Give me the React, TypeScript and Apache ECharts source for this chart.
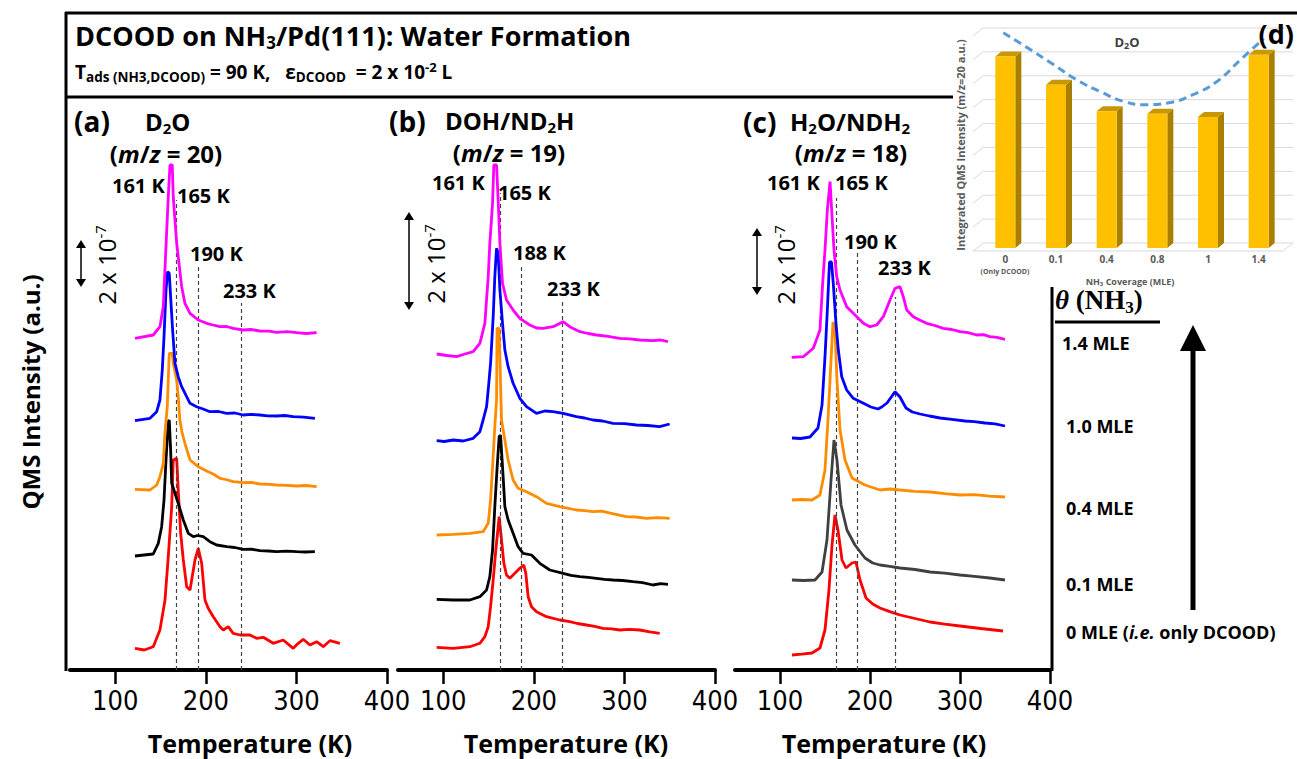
import React, { useEffect, useRef } from "react";
import * as echarts from "echarts";

// ---------- DATA ----------
// Panel (a) D2O (m/z = 20): [temperature K, offset QMS intensity a.u.]
const a14 = [[121.7,331.7],[141.9,335],[149.3,343.3],[153,363.3],[154.8,400],[158.5,473.3],[160.4,505],[162.9,505],[164,473.3],[167.8,426.7],[169.5,413.3],[173.3,383.3],[176.9,366.7],[182.5,356.7],[191.6,350],[200.9,346.7],[208,345],[215.5,343.3],[223,343.5],[230.2,341.7],[241.3,340],[250,340.5],[259.7,339],[270,338.8],[278.1,337.7],[290,338.3],[300.2,337.3],[311,336.5],[322.3,337.3]];
const a10 = [[121.7,249.3],[138.3,251.7],[145.7,258.3],[149.3,270],[151.9,300],[153.8,333.3],[156,380],[157.8,398.3],[159.6,396.7],[161.1,373.3],[163.3,340],[165.9,306.7],[169.5,293.3],[173.3,283.3],[178.8,273.3],[182.5,266.7],[189.8,263.3],[197,261],[204.5,258.3],[214,258.5],[223,256.7],[232,257],[241.3,255],[250,255.6],[259.7,255],[268,254.2],[278.1,254],[287,254.5],[296.5,253.3],[308,252.8],[320.4,251.7]];
const a04 = [[121.7,180.7],[138.3,180],[145.7,185],[149.3,193.3],[153,206.7],[154.8,236.7],[157.4,263.3],[159.6,316.7],[162.9,316.7],[164,306.7],[167.8,290],[169.5,273.3],[171.3,250],[173.6,238],[176.9,226.7],[182.5,210],[191.6,203.3],[202.6,198.3],[209,195.5],[215.6,191.7],[222,190.5],[230.2,188.3],[241.3,187.3],[250,187.6],[259.7,186],[270,185.6],[278.1,185],[290,184.6],[300.2,184],[311,184.5],[322.3,183.3]];
const a01 = [[121.7,114],[141.9,116],[147.5,126.7],[151.2,143.3],[153.8,170],[156,210],[158.5,248.3],[159.6,250],[161.1,220],[162.3,186.7],[165.9,176.7],[169.5,166.7],[175.1,150],[180.6,136.7],[186.1,133.3],[191,134.5],[197.1,133.3],[204.5,128.3],[211.9,125],[223,123.3],[232,122.5],[241.3,120.7],[250,120.9],[259.7,119.3],[269,119],[278.1,118.3],[289,118.9],[300.2,118.3],[310,118],[320.4,118.3]];
const a00 = [[121.7,21.7],[132,20],[141.9,23.3],[149.3,40],[154.9,70],[158.5,113.3],[162.3,163.3],[164,210],[167.8,211.7],[169.5,180],[172.2,136.7],[175.1,110],[178.8,83.3],[182.5,80],[188,110],[191.6,121.7],[195.4,106.7],[199,70],[202.6,61.7],[208.2,53.3],[215.6,43.3],[219.2,40],[224.7,43.3],[230.2,36.7],[237.6,35],[248.7,35],[256,31.7],[263.4,32.7],[274.4,26.7],[285.4,30],[296.5,21.7],[302,26.7],[307.5,30.7],[314.9,25],[322.3,28.3],[329.6,23.3],[337,29.3],[348,26.7]];

// Panel (b) DOH/ND2H (m/z = 19)
const b14 = [[92.7,316],[104,314.5],[114.7,313.3],[124,316],[133,318.3],[140.4,326.7],[145.9,346.7],[149.6,393.3],[151.4,426.7],[154.4,466.7],[155.8,505],[158.8,505],[160.6,470],[162.5,426.7],[165.4,386.7],[169.8,370],[177.1,360],[184.5,351.7],[195.5,345],[203,342],[210.2,341.7],[221.2,343.3],[232.3,348.3],[239.6,343.3],[250.7,338.3],[260,336.5],[269.1,335],[282,333.6],[294.8,331.7],[306,331.2],[316.8,330],[331.5,329.3],[340,330],[348,328.3]];
const b10 = [[92.7,229.3],[101,228.5],[111,230],[122,229],[133,231.7],[140.4,238.3],[144,250],[147.8,263.3],[149.6,280],[152.2,306.7],[155.1,353.3],[156.9,393.3],[158.8,421.7],[160.6,416.7],[162.5,380],[165.4,346.7],[168,320],[171.6,303.3],[177.1,286.7],[184.5,271.7],[191.9,263.3],[202.9,256.7],[212,259],[221.2,258.3],[232.3,256.7],[247,253.3],[256,252],[265.3,250],[276,249],[287.4,246.7],[300,246.4],[313.2,245],[326,244.5],[338.9,243.3],[349.9,246]];
const b04 = [[92.7,135],[111,135.7],[129.4,136.7],[144,138.3],[149.6,146.7],[152.2,170],[154.4,203.3],[156.9,243.3],[158.8,270],[159.4,341.7],[161.6,341.7],[163.2,287],[164.3,250],[168,230],[171.6,210],[177.1,190],[182.6,181.7],[191.9,178.3],[202.9,173.3],[213.9,166.7],[228.6,163.3],[238,161.7],[247,160],[256,159.4],[265.3,158.3],[275,158.8],[285.6,156.7],[293,155.2],[302.1,153.3],[313,153],[324.2,151.7],[337,152.4],[349.9,151.7]];
const b01 = [[92.7,70.7],[111,70],[129.4,70],[140.4,73.3],[147.8,80],[151.4,93.3],[154.4,120],[156.9,163.3],[159.5,203.3],[161.7,233.3],[163.2,235],[165.4,203.3],[168,163.3],[171.6,150],[177.1,136.7],[182.6,123.3],[188.1,116.7],[197.4,115],[206.6,106.7],[217.6,100],[232.3,96.7],[241,94.6],[250.7,93.3],[260,92.6],[269.1,91.7],[278,90.6],[287.4,90],[298,89.5],[309.5,88.3],[320,87.4],[331.5,85],[340,86.4],[348.1,85.7]];
const b00 = [[92.7,22.7],[111,21.7],[129.4,23.3],[140.4,26.7],[145.9,33.3],[149.6,43.3],[152.2,63.3],[155.1,90],[158,120],[160.6,143.3],[161.7,153.3],[164.3,130],[166.9,106.7],[169.8,95],[173.5,91.7],[179,96.7],[184.5,101.7],[188.9,105],[191.1,96.7],[193.7,73.3],[197.4,63.3],[202.9,58.3],[213.9,53.3],[228.6,50],[239.6,48.3],[248,46.5],[258,45],[267,43.6],[276.4,41.7],[286,41.2],[294.8,40],[305,40.6],[316.8,40],[328,38.2],[338.9,36.7]];

// Panel (c) H2O/NDH2 (m/z = 18)
const c14 = [[113,312.7],[125.9,313.3],[137,321.7],[144.4,340],[147.4,386.7],[150,420],[152.6,460],[155.6,488.3],[157.4,460],[160,420],[163,393.3],[166.7,380],[174.1,363.3],[181.4,356.7],[192.6,346.7],[200,343.3],[207.4,345],[214.8,353.3],[222.2,370],[227.8,381.7],[233.3,383.3],[237,373.3],[240.8,360],[248.1,353.3],[255,350],[263,346.7],[272,344.5],[281.4,341.7],[291,340.5],[300,338.3],[309,337.4],[318.6,335],[326,335.4],[333.3,333.3],[341,332.6],[350,330.7]];
const c10 = [[113.3,232],[123,231.5],[133.3,233],[142.2,242],[146.7,265],[150,313.3],[152.6,360],[155,408],[157.2,408],[159.2,386.7],[162.2,346.7],[164.8,320],[168.6,293.3],[174.1,280],[181.4,271.7],[194.4,266],[201,263],[208.9,261],[213,263],[218.9,267],[227.8,278.3],[233.3,273],[240,262],[247,258],[255.6,256],[266,254],[277.8,252],[291,250.6],[305.6,249],[316,248.4],[327.8,247],[339,246.2],[350,244]];
const c04 = [[113.3,170],[124,170.5],[135.6,170],[144.4,175],[150,200],[153.3,250],[156.7,310],[158.9,348],[161.1,340],[163.3,290],[166.7,240],[172.2,210],[180,192],[194.4,185],[211.1,180],[222,181],[233.3,180],[250,178.6],[266.7,178],[283,176.4],[300,175],[316,175.3],[333,173.8],[350,173]];
const c01 = [[113.3,90],[126,89.5],[138.9,90],[146.7,98],[152.2,130],[156.7,190],[160,230],[163.3,210],[167.8,165],[174.4,140],[183.3,125],[194.4,112],[203,107],[211.1,105],[222,103.6],[233.3,102],[250,100.5],[266.7,98],[283,96.8],[300,95],[316,93.6],[333,92],[350,90]];
const c00 = [[113.3,15],[124,15.8],[135.6,17],[144.4,22],[150,40],[154.4,80],[157.8,125],[161.1,155],[164.4,140],[168.9,110],[173.3,102],[180,107],[184.4,108],[188.9,90],[195.6,72],[203,66],[211.1,62],[222,58.4],[233.3,55],[250,51.5],[266.7,48],[283,45.8],[300,44],[323,41.5],[347.8,39]];

// dashed guide lines: temperature and upper extent
const dashA = [167.8, 191.6, 239.5];
const dashTopA = [470, 405, 367];
const dashB = [162.5, 185.6, 231.9];
const dashTopB = [477, 405, 368];
const dashC = [163, 186.3, 227.8];
const dashTopC = [472, 420, 373];

const tempTicks = [100, 200, 300, 400];

// Inset (d): integrated D2O intensity vs NH3 coverage
const covCats = ["0", "0.1", "0.4", "0.8", "1", "1.4"];
const d2oIntegrated = [8.02, 6.83, 5.72, 5.62, 5.48, 8.09];
const trendX = [-0.04, 0.4, 0.95, 1.41, 1.88, 2.36, 2.76, 3.23, 3.69, 4.17, 4.64, 5.1];
const trendY = [9.01, 8.43, 7.68, 7.04, 6.54, 6.12, 6.0, 6.08, 6.41, 6.96, 7.88, 8.76];
const insetGridVals = [0, 1, 2, 3, 4, 5, 6, 7, 8, 9];

// ---------- STYLE ----------
const FONT = "'Open Sans', 'Noto Sans', sans-serif";
const NARROW = "'Liberation Sans Narrow', 'Arial Narrow', 'DejaVu Sans Condensed', 'Open Sans', sans-serif";
const SERIF = "'Liberation Serif', 'DejaVu Serif', serif";

const colA = ["#FF00FF", "#0000FF", "#FF8C00", "#000000", "#FF0000"];
const colC = ["#FF00FF", "#0000FF", "#FF8C00", "#404040", "#FF0000"];

function txt(x: number, y: number, text: string, size: number, extra: any = {}, more: any = {}) {
  return {
    type: "text", x, y, z: 50, silent: true, ...more,
    style: {
      text, fontSize: size, fontWeight: "bold", fontFamily: FONT, fill: "#000",
      align: "left", verticalAlign: "middle", lineHeight: Math.round(size * 1.15), ...extra,
    },
  };
}
const subS = (fs: number, fam = FONT, fill = "#000") => ({ fontSize: fs, fontWeight: "bold", fontFamily: fam, fill, verticalAlign: "bottom", lineHeight: fs });
const supS = (fs: number, fam = FONT, weight = "bold") => ({ fontSize: fs, fontWeight: weight, fontFamily: fam, fill: "#000", verticalAlign: "top", lineHeight: fs });
const itS = (fs: number) => ({ fontSize: fs, fontWeight: "bold", fontStyle: "italic", fontFamily: FONT, fill: "#000" });

function line(x1: number, y1: number, x2: number, y2: number, w: number) {
  return { type: "line", z: 40, silent: true, shape: { x1, y1, x2, y2 }, style: { stroke: "#000", lineWidth: w } };
}
function dblArrow(x: number, y1: number, y2: number) {
  const h = 8, hw = 5;
  return [
    { type: "line", z: 40, silent: true, shape: { x1: x, y1: y1 + h - 1, x2: x, y2: y2 - h + 1 }, style: { stroke: "#000", lineWidth: 1.5 } },
    { type: "polygon", z: 40, silent: true, shape: { points: [[x, y1], [x - hw, y1 + h], [x + hw, y1 + h]] }, style: { fill: "#000" } },
    { type: "polygon", z: 40, silent: true, shape: { points: [[x, y2], [x - hw, y2 - h], [x + hw, y2 - h]] }, style: { fill: "#000" } },
  ];
}
function scaleText(x: number, y: number) {
  return txt(x, y, "2 x 10{p|-7}", 24, { align: "center", fontWeight: "normal", lineHeight: 28, rich: { p: supS(15, FONT, "normal") } }, { rotation: Math.PI / 2 });
}

const grids = [
  { left: 70, top: 95, width: 317, height: 575 },
  { left: 398, top: 95, width: 317, height: 575 },
  { left: 735, top: 95, width: 315, height: 575 },
  { left: 980, top: 33, width: 304, height: 215 },
];

const tempAxis = (i: number) => ({
  type: "value", gridIndex: i, min: 50, max: 400,
  axisLine: { show: true, onZero: false, lineStyle: { color: "#000", width: 4 } },
  axisTick: { show: true, customValues: tempTicks, length: 14, lineStyle: { color: "#000", width: 2.5 } },
  axisLabel: { show: true, customValues: tempTicks, fontSize: 27, fontFamily: NARROW, color: "#000", margin: 17 },
  splitLine: { show: false },
});
const intAxis = (i: number) => ({ type: "value", gridIndex: i, min: 0, max: 575, show: false });

function traces(panel: number, list: number[][][], cols: string[], dash: number[], dashTop: number[]) {
  return list.map((d, k) => ({
    type: "line", xAxisIndex: panel, yAxisIndex: panel, data: d, showSymbol: false, symbol: "none",
    lineStyle: { color: cols[k], width: 2.8 }, itemStyle: { color: cols[k] }, z: 5 - k + 3,
    markLine: k === list.length - 1 ? {
      silent: true, symbol: ["none", "none"], label: { show: false },
      lineStyle: { color: "#444", width: 1.2, type: [4, 3] },
      data: dash.map((t, i) => [{ coord: [t, 0] }, { coord: [t, dashTop[i]] }]),
    } : undefined,
  }));
}

const option: any = {
  animation: false,
  backgroundColor: "#fff",
  grid: grids,
  xAxis: [
    tempAxis(0), tempAxis(1), tempAxis(2),
    {
      type: "category", gridIndex: 3, data: covCats,
      axisLine: { show: false }, axisTick: { show: false },
      axisLabel: {
        interval: 0, margin: 5, fontSize: 10, lineHeight: 11, fontWeight: "bold", fontFamily: FONT, color: "#595959",
      },
    },
    { type: "value", gridIndex: 3, min: -0.5, max: 5.5, show: false },
  ],
  yAxis: [intAxis(0), intAxis(1), intAxis(2), { type: "value", gridIndex: 3, min: 0, max: 9, show: false }],
  series: [
    ...traces(0, [a14, a10, a04, a01, a00], colA, dashA, dashTopA),
    ...traces(1, [b14, b10, b04, b01, b00], colA, dashB, dashTopB),
    ...traces(2, [c14, c10, c04, c01, c00], colC, dashC, dashTopC),
    {
      type: "custom", xAxisIndex: 3, yAxisIndex: 3, silent: true, z: 1,
      data: insetGridVals.map((v) => [0, v]),
      renderItem: (params: any, api: any) => {
        const cs = params.coordSys;
        const v = api.value(1);
        const y = api.coord([0, v])[1] - 5;
        const xl = cs.x - 7, xb = cs.x + 3, xr = cs.x + cs.width + 9;
        const children: any[] = [
          { type: "polyline", shape: { points: [[xl, y + 8], [xb, y], [xr, y]] }, style: { stroke: "#D9D9D9", lineWidth: 1, fill: null } },
        ];
        if (v === 0) {
          children.push({ type: "polyline", shape: { points: [[xl, y + 8], [xr - 10, y + 8], [xr, y]] }, style: { stroke: "#D9D9D9", lineWidth: 1, fill: null } });
        }
        return { type: "group", children };
      },
    },
    {
      type: "custom", xAxisIndex: 3, yAxisIndex: 3, silent: true, z: 2,
      data: d2oIntegrated.map((v, i) => [i, v]),
      renderItem: (params: any, api: any) => {
        const i = api.value(0), v = api.value(1);
        const top = api.coord([i, v]);
        const bot = api.coord([i, 0]);
        const w = 20, dx = 6, dy = 5;
        const x0 = top[0] - w / 2, x1 = top[0] + w / 2;
        return {
          type: "group",
          children: [
            { type: "polygon", shape: { points: [[x1, top[1]], [x1 + dx, top[1] - dy], [x1 + dx, bot[1] - dy], [x1, bot[1]]] }, style: { fill: "#A87F00" } },
            { type: "polygon", shape: { points: [[x0, top[1]], [x0 + dx, top[1] - dy], [x1 + dx, top[1] - dy], [x1, top[1]]] }, style: { fill: "#C99700" } },
            { type: "rect", shape: { x: x0, y: top[1], width: w, height: bot[1] - top[1] }, style: { fill: "#FFC000" } },
          ],
        };
      },
    },
    {
      type: "line", xAxisIndex: 4, yAxisIndex: 3, smooth: true, showSymbol: false, symbol: "none", clip: false, z: 6,
      data: trendX.map((x, i) => [x, trendY[i]]),
      lineStyle: { color: "#5B9BD5", width: 3, type: [8, 5] },
    },
  ],
  graphic: [
    // frames
    line(65, 13, 1297, 13, 3),
    line(66, 12, 66, 671, 3),
    line(65, 97, 953, 97, 3),
    line(1052, 287, 1052, 671, 3),
    // title box
    txt(75, 35, "DCOOD on NH{s|3}/Pd(111): Water Formation", 27, { lineHeight: 32, rich: { s: subS(17) } }),
    txt(75, 72, "T{s|ads (NH3,DCOOD)} = 90 K,   ε{s|DCOOD}  = 2 x 10{p|-2} L", 19, { lineHeight: 24, rich: { s: subS(13.5), p: supS(13) } }),
    // y title
    txt(30, 392, "QMS Intensity (a.u.)", 24, { align: "center" }, { rotation: Math.PI / 2 }),
    // x titles
    txt(250, 743, "Temperature (K)", 25, { align: "center", lineHeight: 26 }),
    txt(566, 743, "Temperature (K)", 25, { align: "center", lineHeight: 26 }),
    txt(884, 743, "Temperature (K)", 25, { align: "center", lineHeight: 26 }),
    // panel headers
    txt(74, 121, "(a)", 28),
    txt(145, 121, "D{s|2}O", 24, { lineHeight: 28, rich: { s: subS(15) } }),
    txt(166, 153, "({i|m}/{i|z} = 20)", 24, { align: "center", lineHeight: 26, rich: { i: itS(24) } }),
    txt(389, 121, "(b)", 28),
    txt(445, 120, "DOH/ND{s|2}H", 24, { lineHeight: 28, rich: { s: subS(15) } }),
    txt(509, 152, "({i|m}/{i|z} = 19)", 24, { align: "center", lineHeight: 26, rich: { i: itS(24) } }),
    txt(743, 122, "(c)", 28),
    txt(790, 121, "H{s|2}O/NDH{s|2}", 24, { lineHeight: 28, rich: { s: subS(15) } }),
    txt(851, 152, "({i|m}/{i|z} = 18)", 24, { align: "center", lineHeight: 26, rich: { i: itS(24) } }),
    // peak labels
    txt(112, 185, "161 K", 20), txt(177, 195, "165 K", 20), txt(190, 253, "190 K", 20), txt(223, 290, "233 K", 20),
    txt(432, 182, "161 K", 20), txt(498, 192, "165 K", 20), txt(513, 252, "188 K", 20), txt(547, 288, "233 K", 20),
    txt(767, 182, "161 K", 20), txt(835, 182, "165 K", 20), txt(844, 241, "190 K", 20), txt(878, 267, "233 K", 20),
    // scale bars
    ...dblArrow(81, 240, 287), scaleText(106, 265),
    ...dblArrow(409, 212, 310), scaleText(435, 264),
    ...dblArrow(757, 228, 295), scaleText(785, 265),
    // coverage legend
    txt(1055, 300, "{t|θ} (NH{s|3})", 27, { fontFamily: SERIF, lineHeight: 32, rich: { t: { fontSize: 27, fontWeight: "bold", fontStyle: "italic", fontFamily: SERIF, fill: "#000" }, s: subS(17, SERIF) } }),
    line(1055, 322, 1160, 322, 3),
    txt(1062, 343, "1.4 MLE", 18),
    txt(1066, 426, "1.0 MLE", 18),
    txt(1066, 508, "0.4 MLE", 18),
    txt(1066, 584, "0.1 MLE", 18),
    txt(1066, 632, "0 MLE ({i|i.e.} only DCOOD)", 18, { rich: { i: itS(18) } }),
    { type: "line", z: 40, silent: true, shape: { x1: 1193, y1: 610, x2: 1193, y2: 348 }, style: { stroke: "#000", lineWidth: 5 } },
    { type: "polygon", z: 40, silent: true, shape: { points: [[1193, 325], [1180, 351], [1206, 351]] }, style: { fill: "#000" } },
    // inset texts
    txt(1127, 42, "D{s|2}O", 13, { align: "center", fill: "#404040", lineHeight: 16, rich: { s: subS(9, FONT, "#404040") } }),
    txt(960, 145, "Integrated QMS Intensity (m/z=20 a.u.)", 11, { align: "center", fill: "#595959" }, { rotation: Math.PI / 2 }),
    txt(1005, 271, "(Only DCOOD)", 7, { align: "center", fill: "#595959", lineHeight: 8 }),
    txt(1130, 281, "NH{s|3} Coverage (MLE)", 9, { align: "center", fill: "#595959", lineHeight: 11, rich: { s: subS(6, FONT, "#595959") } }),
    txt(1294, 33, "(d)", 27, { align: "right" }),
  ],
};

export default function App() {
  const ref = useRef<HTMLDivElement>(null);
  useEffect(() => {
    const chart = echarts.init(ref.current!, null, { renderer: "svg" });
    chart.setOption(option);
    return () => chart.dispose();
  }, []);
  return (
    <div
      ref={ref}
      style={{ position: "fixed", left: 0, top: 0, width: 1297, height: 759, background: "#fff" }}
    />
  );
}
